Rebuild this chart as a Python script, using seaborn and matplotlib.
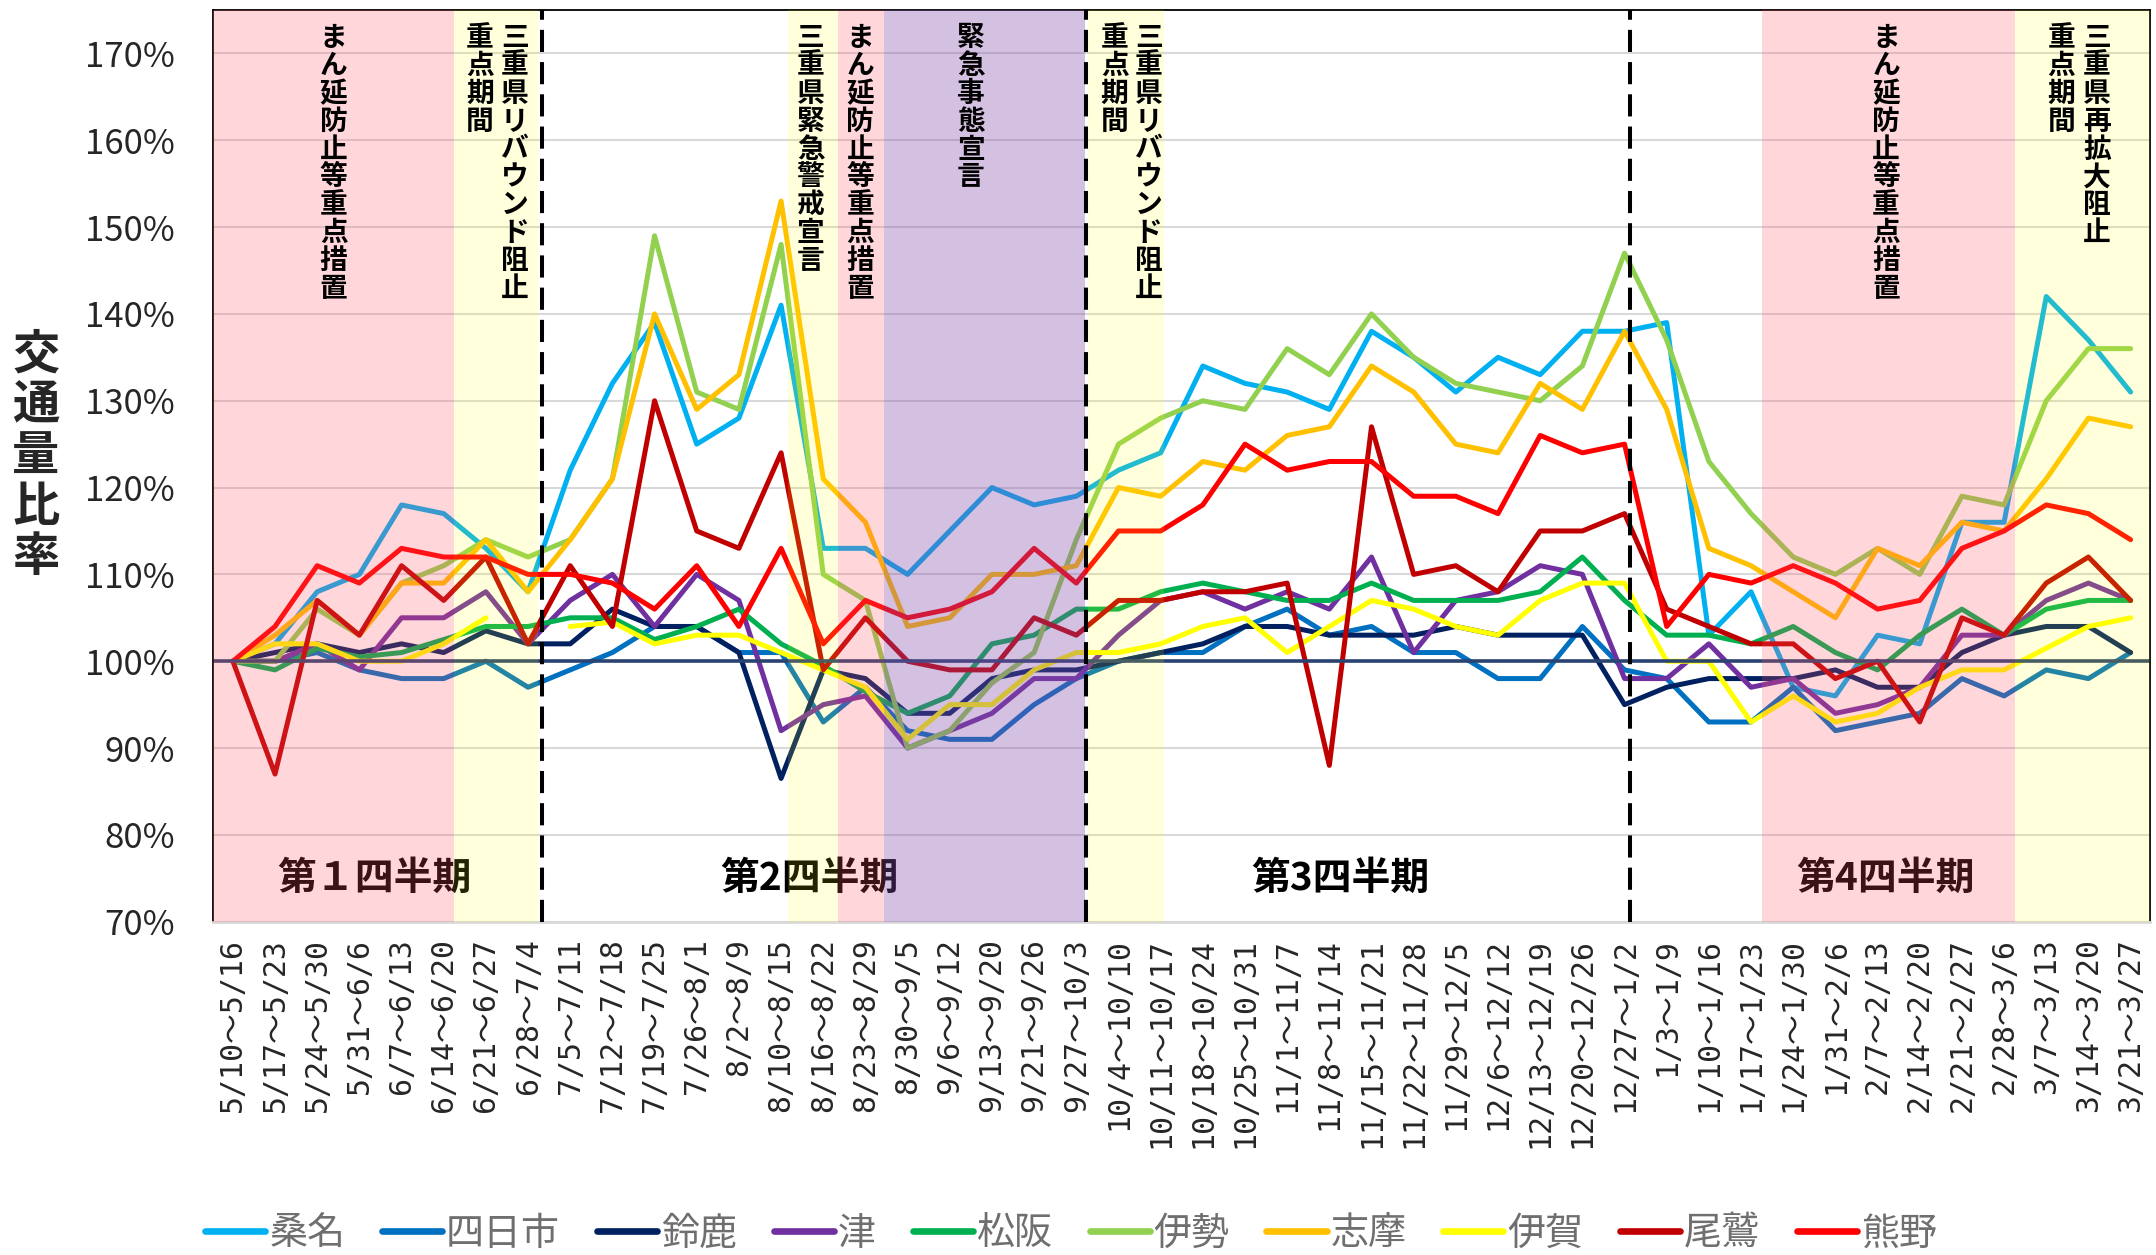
import numpy as np
import pandas as pd
import seaborn as sns
import matplotlib.pyplot as plt
import matplotlib.transforms as mtransforms
from matplotlib.lines import Line2D

# ---- data -------------------------------------------------------------
weeks = ['5/10～5/16', '5/17～5/23', '5/24～5/30', '5/31～6/6', '6/7～6/13', '6/14～6/20',
         '6/21～6/27', '6/28～7/4', '7/5～7/11', '7/12～7/18', '7/19～7/25', '7/26～8/1',
         '8/2～8/9', '8/10～8/15', '8/16～8/22', '8/23～8/29', '8/30～9/5', '9/6～9/12',
         '9/13～9/20', '9/21～9/26', '9/27～10/3', '10/4～10/10', '10/11～10/17',
         '10/18～10/24', '10/25～10/31', '11/1～11/7', '11/8～11/14', '11/15～11/21',
         '11/22～11/28', '11/29～12/5', '12/6～12/12', '12/13～12/19', '12/20～12/26',
         '12/27～1/2', '1/3～1/9', '1/10～1/16', '1/17～1/23', '1/24～1/30', '1/31～2/6',
         '2/7～2/13', '2/14～2/20', '2/21～2/27', '2/28～3/6', '3/7～3/13', '3/14～3/20',
         '3/21～3/27']

areas = ['桑名', '四日市', '鈴鹿', '津', '松阪', '伊勢', '志摩', '伊賀', '尾鷲', '熊野']

kuwana = [100, 102, 108, 110, 118, 117, 113, 108, 122, 132, 139, 125, 128, 141, 113, 113,
          110, 115, 120, 118, 119, 122, 124, 134, 132, 131, 129, 138, 135, 131, 135, 133,
          138, 138, 139, 103, 108, 97, 96, 103, 102, 116, 116, 142, 137, 131]
yokkaichi = [100, 100, 101, 99, 98, 98, 100, 97, 99, 101, 104, 104, 101, 101, 93, 97,
             92, 91, 91, 95, 98, 100, 101, 101, 104, 106, 103, 104, 101, 101, 98, 98,
             104, 99, 98, 93, 93, 97, 92, 93, 94, 98, 96, 99, 98, 101]
suzuka = [100, 101, 102, 101, 102, 101, 103.5, 102, 102, 106, 104, 104, 101, 86.5, 99, 98,
          94, 94, 98, 99, 99, 100, 101, 102, 104, 104, 103, 103, 103, 104, 103, 103,
          103, 95, 97, 98, 98, 98, 99, 97, 97, 101, 103, 104, 104, 101]
tsu = [100, 100, 102, 99, 105, 105, 108, 102, 107, 110, 104, 110, 107, 92, 95, 96,
       90, 92, 94, 98, 98, 103, 107, 108, 106, 108, 106, 112, 101, 107, 108, 111,
       110, 98, 98, 102, 97, 98, 94, 95, 97, 103, 103, 107, 109, 107]
matsusaka = [100, 99, 101.5, 100.5, 101, 102.5, 104, 104, 105, 105, 102.5, 104, 106, 102,
             99.5, 96.5, 94, 96, 102, 103, 106, 106, 108, 109, 108, 107, 107, 109, 107,
             107, 107, 108, 112, 107, 103, 103, 102, 104, 101, 99, 103, 106, 103, 106,
             107, 107]
ise = [100, 100, 106, 103, 109, 111, 114, 112, 114, 121, 149, 131, 129, 148, 110, 107,
       90, 92, 97.5, 101, 114, 125, 128, 130, 129, 136, 133, 140, 135, 132, 131, 130,
       134, 147, 137, 123, 117, 112, 110, 113, 110, 119, 118, 130, 136, 136]
shima = [100, 103, 107, 103, 109, 109, 114, 108, 114, 121, 140, 129, 133, 153, 121, 116,
         104, 105, 110, 110, 111, 120, 119, 123, 122, 126, 127, 134, 131, 125, 124, 132,
         129, 138, 129, 113, 111, 108, 105, 113, 111, 116, 115, 121, 128, 127]
iga = [100, 102, 102, 100, 100, 102, 105, np.nan, 104, 104.5, 102, 103, 103, 101, 99, 97,
       91, 95, 95, 99, 101, 101, 102, 104, 105, 101, 104, 107, 106, 104, 103, 107,
       109, 109, 100, 100, 93, 96, 93, 94, 97, 99, 99, 101.5, 104, 105]
owase = [100, 87, 107, 103, 111, 107, 112, 102, 111, 104, 130, 115, 113, 124, 99, 105,
         100, 99, 99, 105, 103, 107, 107, 108, 108, 109, 88, 127, 110, 111, 108, 115,
         115, 117, 106, 104, 102, 102, 98, 100, 93, 105, 103, 109, 112, 107]
kumano = [100, 104, 111, 109, 113, 112, 112, 110, 110, 109, 106, 111, 104, 113, 102, 107,
          105, 106, 108, 113, 109, 115, 115, 118, 125, 122, 123, 123, 119, 119, 117, 126,
          124, 125, 104, 110, 109, 111, 109, 106, 107, 113, 115, 118, 117, 114]

colors = ['#00B0F0', '#0070C0', '#002060', '#7030A0', '#00B050',
          '#92D050', '#FFC000', '#FFFF00', '#C00000', '#FF0000']

# measures periods (start, end, overlay colour, alpha) in week-index units
periods = [(-0.48, 5.25, '#FF5467', 0.23), (5.25, 7.24, '#FFFF00', 0.14),
           (13.17, 14.36, '#FFFF00', 0.14), (14.36, 15.43, '#FF5467', 0.23),
           (15.43, 20.2, '#854CA7', 0.35), (20.27, 22.09, '#FFFF00', 0.14),
           (36.27, 42.25, '#FF5467', 0.23), (42.25, 45.46, '#FFFF00', 0.14)]
period_labels = [(2.39, 'まん延防止等重点措置'), (6.69, '三重県リバウンド阻止'), (5.86, '重点期間'),
                 (13.70, '三重県緊急警戒宣言'), (14.88, 'まん延防止等重点措置'),
                 (17.50, '緊急事態宣言'), (21.72, '三重県リバウンド阻止'), (20.91, '重点期間'),
                 (39.2, 'まん延防止等重点措置'), (44.2, '三重県再拡大阻止'), (43.36, '重点期間')]
quarter_lines = [7.34, 20.22, 33.14]
quarter_labels = [(3.35, '第１四半期'), (13.68, '第2四半期'), (26.27, '第3四半期'), (39.2, '第4四半期')]

# ---- long table, split at gaps so missing weeks stay unconnected -------
series = [kuwana, yokkaichi, suzuka, tsu, matsusaka, ise, shima, iga, owase, kumano]
rows = []
for name, vals in zip(areas, series):
    seg = 0
    for i, v in enumerate(vals):
        if np.isnan(v):
            seg += 1
            continue
        rows.append((i, v, name, seg))
df = pd.DataFrame(rows, columns=['week', 'ratio', 'area', 'seg'])

# ---- figure ------------------------------------------------------------
sns.set_style('white')
plt.rcParams['font.family'] = ['Noto Sans CJK JP', 'DejaVu Sans']

W, H = 2156, 1255
fig = plt.figure(figsize=(W / 100, H / 100), dpi=100)
ax_l, ax_r, ax_t, ax_b = 212.6, 2150, 10, 921.7
ax = fig.add_axes([ax_l / W, 1 - ax_b / H, (ax_r - ax_l) / W, (ax_b - ax_t) / H])

sns.lineplot(data=df, x='week', y='ratio', hue='area', units='seg', estimator=None,
             hue_order=areas, palette=dict(zip(areas, colors)), linewidth=3.6,
             legend=False, ax=ax, zorder=2)

ax.axhline(100, color='#2B4371', lw=2.6, zorder=2.3)

for s, e, c, a in periods:
    ax.axvspan(s, e, color=c, alpha=a, lw=0, zorder=2.6)

for x in quarter_lines:
    ax.axvline(x, color='black', lw=2.9, dashes=(5.5, 2.5), zorder=4)

ax.set_xlim(-0.48, 45.46)
ax.set_ylim(70, 175)
ax.set_yticks(range(70, 171, 10))
ax.set_yticklabels([f'{v}%' for v in range(70, 171, 10)], fontsize=25)
ax.set_xticks(range(len(weeks)))
ax.set_xticklabels(weeks, rotation=90, fontsize=21.5,
                   family=['DejaVu Sans Mono', 'Noto Sans CJK JP'])
ax.tick_params(axis='x', length=0, pad=12)
ax.tick_params(axis='y', length=0, pad=27)
ax.set_xlabel('')
ax.set_ylabel('')
ax.set_axisbelow(True)
ax.yaxis.grid(True, color='#D9D9D9', lw=1.5)
ax.xaxis.grid(False)
for side in ['left', 'top', 'right']:
    ax.spines[side].set_color('black')
    ax.spines[side].set_linewidth(1.3)
ax.spines['bottom'].set_color('#D9D9D9')
ax.spines['bottom'].set_linewidth(2)

# period names written vertically, one character per row
ax_h = ax_b - ax_t
trans = mtransforms.blended_transform_factory(ax.transData, ax.transAxes)
for x, s in period_labels:
    for k, ch in enumerate(s):
        y = 1 - (14 + 27.9 * (k + 0.5)) / ax_h
        ax.text(x, y, ch, transform=trans, ha='center', va='center',
                fontsize=20, fontweight='bold', color='black', zorder=5)

for x, s in quarter_labels:
    ax.text(x, 75, s, ha='center', va='center', fontsize=28, fontweight='bold',
            color='black', zorder=2.55)

# y axis title, stacked
for k, ch in enumerate('交通量比率'):
    fig.text(35.8 / W, 1 - (456 + (k - 2) * 50.6) / H, ch, ha='center', va='center',
             fontsize=34, fontweight='bold')

handles = [Line2D([0], [0], color=c, lw=4.8, solid_capstyle='round') for c in colors]
leg = fig.legend(handles, areas, loc='center', bbox_to_anchor=(0.4968, 0.0165), ncol=10,
                 frameon=False, fontsize=27.4, handlelength=1.58, handletextpad=0.1,
                 columnspacing=0.97, borderpad=0, borderaxespad=0)
for t in leg.get_texts():
    t.set_color('#6F6F6F')

fig.savefig('out.png', dpi=100)
